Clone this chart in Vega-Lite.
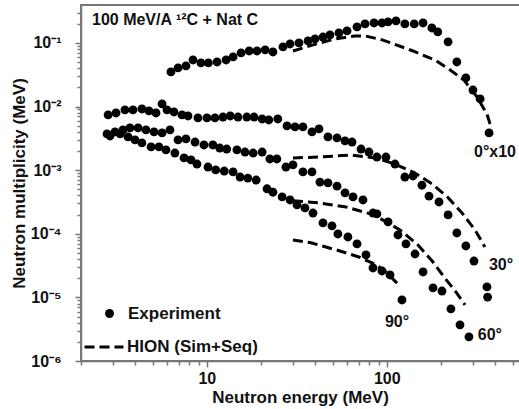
{
  "$schema": "https://vega.github.io/schema/vega-lite/v6.json",
  "width": 440,
  "height": 356,
  "autosize": {"type": "none"},
  "padding": {"left": 81, "top": 5, "right": -2, "bottom": 48},
  "background": "white",
  "config": {"view": {"stroke": "#777", "strokeWidth": 2}, "font": "Liberation Sans"},
  "title": {"text": "100 MeV/A ¹²C + Nat C", "anchor": "start", "frame": "group", "offset": -23, "dx": 11, "font": "Liberation Sans", "fontSize": 16, "fontWeight": "bold", "color": "#111"},
  "data": {"values": [
    {"src":"Experiment","ang":"0","E":6.32,"M":0.035},{"src":"Experiment","ang":"0","E":6.92,"M":0.0405},{"src":"Experiment","ang":"0","E":7.66,"M":0.0435},{"src":"Experiment","ang":"0","E":8.38,"M":0.054},{"src":"Experiment","ang":"0","E":9.28,"M":0.0485},{"src":"Experiment","ang":"0","E":10.2,"M":0.0485},{"src":"Experiment","ang":"0","E":11.4,"M":0.0502},{"src":"Experiment","ang":"0","E":12.8,"M":0.054},{"src":"Experiment","ang":"0","E":14.0,"M":0.0603},{"src":"Experiment","ang":"0","E":15.5,"M":0.0697},{"src":"Experiment","ang":"0","E":17.2,"M":0.0748},{"src":"Experiment","ang":"0","E":19.0,"M":0.0748},{"src":"Experiment","ang":"0","E":21.1,"M":0.0776},{"src":"Experiment","ang":"0","E":23.3,"M":0.0721},{"src":"Experiment","ang":"0","E":26.5,"M":0.0865},{"src":"Experiment","ang":"0","E":29.0,"M":0.0964},{"src":"Experiment","ang":"0","E":32.5,"M":0.100},{"src":"Experiment","ang":"0","E":36.5,"M":0.1075},{"src":"Experiment","ang":"0","E":39.9,"M":0.1156},{"src":"Experiment","ang":"0","E":44.2,"M":0.124},{"src":"Experiment","ang":"0","E":48.3,"M":0.1336},{"src":"Experiment","ang":"0","E":54.2,"M":0.1436},{"src":"Experiment","ang":"0","E":60.1,"M":0.1545},{"src":"Experiment","ang":"0","E":68.3,"M":0.1786},{"src":"Experiment","ang":"0","E":75.7,"M":0.199},{"src":"Experiment","ang":"0","E":84.9,"M":0.206},{"src":"Experiment","ang":"0","E":94.0,"M":0.206},{"src":"Experiment","ang":"0","E":101.6,"M":0.214},{"src":"Experiment","ang":"0","E":112.5,"M":0.222},{"src":"Experiment","ang":"0","E":126,"M":0.199},{"src":"Experiment","ang":"0","E":142,"M":0.199},{"src":"Experiment","ang":"0","E":159,"M":0.206},{"src":"Experiment","ang":"0","E":178,"M":0.172},{"src":"Experiment","ang":"0","E":192,"M":0.149},{"src":"Experiment","ang":"0","E":219,"M":0.104},{"src":"Experiment","ang":"0","E":245,"M":0.0502},{"src":"Experiment","ang":"0","E":275,"M":0.0282},{"src":"Experiment","ang":"0","E":301,"M":0.0182},{"src":"Experiment","ang":"0","E":330,"M":0.0132},{"src":"Experiment","ang":"0","E":370,"M":0.00385},
    {"src":"Experiment","ang":"30","E":2.83,"M":0.00738},{"src":"Experiment","ang":"30","E":3.13,"M":0.00793},{"src":"Experiment","ang":"30","E":3.51,"M":0.00885},{"src":"Experiment","ang":"30","E":3.89,"M":0.00885},{"src":"Experiment","ang":"30","E":4.36,"M":0.00916},{"src":"Experiment","ang":"30","E":4.77,"M":0.00853},{"src":"Experiment","ang":"30","E":5.22,"M":0.00793},{"src":"Experiment","ang":"30","E":5.64,"M":0.01099},{"src":"Experiment","ang":"30","E":6.01,"M":0.00885},{"src":"Experiment","ang":"30","E":6.57,"M":0.00822},{"src":"Experiment","ang":"30","E":7.28,"M":0.00738},{"src":"Experiment","ang":"30","E":7.86,"M":0.00711},{"src":"Experiment","ang":"30","E":8.93,"M":0.00662},{"src":"Experiment","ang":"30","E":10.02,"M":0.00662},{"src":"Experiment","ang":"30","E":11.1,"M":0.00662},{"src":"Experiment","ang":"30","E":12.3,"M":0.00685},{"src":"Experiment","ang":"30","E":13.5,"M":0.00711},{"src":"Experiment","ang":"30","E":14.9,"M":0.00685},{"src":"Experiment","ang":"30","E":16.7,"M":0.00685},{"src":"Experiment","ang":"30","E":18.3,"M":0.00685},{"src":"Experiment","ang":"30","E":20.3,"M":0.00638},{"src":"Experiment","ang":"30","E":22.1,"M":0.00615},{"src":"Experiment","ang":"30","E":24.8,"M":0.00638},{"src":"Experiment","ang":"30","E":27.9,"M":0.00496},{"src":"Experiment","ang":"30","E":30.9,"M":0.00478},{"src":"Experiment","ang":"30","E":34.2,"M":0.00478},{"src":"Experiment","ang":"30","E":38.4,"M":0.00399},{"src":"Experiment","ang":"30","E":42.0,"M":0.00445},{"src":"Experiment","ang":"30","E":47.1,"M":0.00333},{"src":"Experiment","ang":"30","E":52.9,"M":0.00321},{"src":"Experiment","ang":"30","E":58.6,"M":0.00288},{"src":"Experiment","ang":"30","E":64.1,"M":0.00277},{"src":"Experiment","ang":"30","E":71.9,"M":0.00215},{"src":"Experiment","ang":"30","E":79.6,"M":0.00193},{"src":"Experiment","ang":"30","E":88.1,"M":0.00161},{"src":"Experiment","ang":"30","E":98.9,"M":0.00161},{"src":"Experiment","ang":"30","E":111.0,"M":0.00125},{"src":"Experiment","ang":"30","E":126,"M":0.00078},{"src":"Experiment","ang":"30","E":139.8,"M":0.00081},{"src":"Experiment","ang":"30","E":156.8,"M":0.00058},{"src":"Experiment","ang":"30","E":171.6,"M":0.00039},{"src":"Experiment","ang":"30","E":195,"M":0.000316},{"src":"Experiment","ang":"30","E":219,"M":0.000198},{"src":"Experiment","ang":"30","E":245,"M":0.000103},{"src":"Experiment","ang":"30","E":275,"M":0.0000643},{"src":"Experiment","ang":"30","E":305,"M":0.0000373},{"src":"Experiment","ang":"30","E":360,"M":0.0000146},{"src":"Experiment","ang":"30","E":363,"M":0.0000101},
    {"src":"Experiment","ang":"60","E":2.79,"M":0.00371},{"src":"Experiment","ang":"60","E":3.09,"M":0.00399},{"src":"Experiment","ang":"60","E":3.42,"M":0.00429},{"src":"Experiment","ang":"60","E":3.74,"M":0.00461},{"src":"Experiment","ang":"60","E":4.15,"M":0.00461},{"src":"Experiment","ang":"60","E":4.59,"M":0.00429},{"src":"Experiment","ang":"60","E":5.09,"M":0.00399},{"src":"Experiment","ang":"60","E":5.64,"M":0.00385},{"src":"Experiment","ang":"60","E":6.24,"M":0.00429},{"src":"Experiment","ang":"60","E":6.92,"M":0.00299},{"src":"Experiment","ang":"60","E":7.66,"M":0.0031},{"src":"Experiment","ang":"60","E":8.6,"M":0.00277},{"src":"Experiment","ang":"60","E":9.64,"M":0.00249},{"src":"Experiment","ang":"60","E":10.8,"M":0.00249},{"src":"Experiment","ang":"60","E":11.8,"M":0.00223},{"src":"Experiment","ang":"60","E":12.9,"M":0.00215},{"src":"Experiment","ang":"60","E":14.7,"M":0.00208},{"src":"Experiment","ang":"60","E":16.3,"M":0.00193},{"src":"Experiment","ang":"60","E":18.1,"M":0.00186},{"src":"Experiment","ang":"60","E":20.3,"M":0.00193},{"src":"Experiment","ang":"60","E":22.4,"M":0.0015},{"src":"Experiment","ang":"60","E":24.5,"M":0.0015},{"src":"Experiment","ang":"60","E":27.5,"M":0.00112},{"src":"Experiment","ang":"60","E":30.1,"M":0.00121},{"src":"Experiment","ang":"60","E":34.2,"M":0.00094},{"src":"Experiment","ang":"60","E":38.4,"M":0.00094},{"src":"Experiment","ang":"60","E":42.5,"M":0.00065},{"src":"Experiment","ang":"60","E":47.1,"M":0.00063},{"src":"Experiment","ang":"60","E":52.9,"M":0.00056},{"src":"Experiment","ang":"60","E":58.6,"M":0.00044},{"src":"Experiment","ang":"60","E":64.9,"M":0.00038},{"src":"Experiment","ang":"60","E":73.7,"M":0.00034},{"src":"Experiment","ang":"60","E":83.8,"M":0.000212},{"src":"Experiment","ang":"60","E":88.1,"M":0.000205},{"src":"Experiment","ang":"60","E":101.6,"M":0.000154},{"src":"Experiment","ang":"60","E":115.4,"M":0.0000958},{"src":"Experiment","ang":"60","E":127.8,"M":0.0000692},{"src":"Experiment","ang":"60","E":143.5,"M":0.0000481},{"src":"Experiment","ang":"60","E":159,"M":0.0000251},{"src":"Experiment","ang":"60","E":180.6,"M":0.0000141},{"src":"Experiment","ang":"60","E":202.6,"M":0.0000126},{"src":"Experiment","ang":"60","E":227,"M":0.0000066},{"src":"Experiment","ang":"60","E":255,"M":0.0000037},{"src":"Experiment","ang":"60","E":286,"M":0.0000024},
    {"src":"Experiment","ang":"90","E":2.9,"M":0.00345},{"src":"Experiment","ang":"90","E":3.3,"M":0.00371},{"src":"Experiment","ang":"90","E":3.65,"M":0.00333},{"src":"Experiment","ang":"90","E":3.99,"M":0.00299},{"src":"Experiment","ang":"90","E":4.36,"M":0.00268},{"src":"Experiment","ang":"90","E":4.9,"M":0.00232},{"src":"Experiment","ang":"90","E":5.42,"M":0.00232},{"src":"Experiment","ang":"90","E":5.93,"M":0.00208},{"src":"Experiment","ang":"90","E":6.65,"M":0.00186},{"src":"Experiment","ang":"90","E":7.47,"M":0.00156},{"src":"Experiment","ang":"90","E":8.17,"M":0.00145},{"src":"Experiment","ang":"90","E":8.82,"M":0.00125},{"src":"Experiment","ang":"90","E":10.15,"M":0.00112},{"src":"Experiment","ang":"90","E":11.2,"M":0.00101},{"src":"Experiment","ang":"90","E":12.5,"M":0.00097},{"src":"Experiment","ang":"90","E":14.0,"M":0.00094},{"src":"Experiment","ang":"90","E":15.3,"M":0.00078},{"src":"Experiment","ang":"90","E":16.9,"M":0.00075},{"src":"Experiment","ang":"90","E":18.8,"M":0.0007},{"src":"Experiment","ang":"90","E":21.6,"M":0.00051},{"src":"Experiment","ang":"90","E":23.3,"M":0.00045},{"src":"Experiment","ang":"90","E":26.2,"M":0.00038},{"src":"Experiment","ang":"90","E":29.0,"M":0.00034},{"src":"Experiment","ang":"90","E":31.7,"M":0.000284},{"src":"Experiment","ang":"90","E":35.1,"M":0.000255},{"src":"Experiment","ang":"90","E":38.9,"M":0.000212},{"src":"Experiment","ang":"90","E":44.2,"M":0.000148},{"src":"Experiment","ang":"90","E":49.6,"M":0.000133},{"src":"Experiment","ang":"90","E":53.5,"M":0.0000993},{"src":"Experiment","ang":"90","E":60.8,"M":0.0000891},{"src":"Experiment","ang":"90","E":68.3,"M":0.0000692},{"src":"Experiment","ang":"90","E":76.6,"M":0.0000464},{"src":"Experiment","ang":"90","E":83.8,"M":0.000029},{"src":"Experiment","ang":"90","E":94.0,"M":0.000026},{"src":"Experiment","ang":"90","E":104.2,"M":0.0000225},{"src":"Experiment","ang":"90","E":121.4,"M":0.0000091},
    {"src":"HION (Sim+Seq)","ang":"0","E":30.1,"M":0.0748},{"src":"HION (Sim+Seq)","ang":"0","E":38.9,"M":0.0931},{"src":"HION (Sim+Seq)","ang":"0","E":51.5,"M":0.1156},{"src":"HION (Sim+Seq)","ang":"0","E":66.5,"M":0.129},{"src":"HION (Sim+Seq)","ang":"0","E":75.7,"M":0.129},{"src":"HION (Sim+Seq)","ang":"0","E":95.2,"M":0.111},{"src":"HION (Sim+Seq)","ang":"0","E":139.8,"M":0.0748},{"src":"HION (Sim+Seq)","ang":"0","E":185,"M":0.054},{"src":"HION (Sim+Seq)","ang":"0","E":221,"M":0.039},{"src":"HION (Sim+Seq)","ang":"0","E":268,"M":0.0262},{"src":"HION (Sim+Seq)","ang":"0","E":317,"M":0.01416},{"src":"HION (Sim+Seq)","ang":"0","E":360,"M":0.00766},{"src":"HION (Sim+Seq)","ang":"0","E":379,"M":0.00478},
    {"src":"HION (Sim+Seq)","ang":"30","E":30.1,"M":0.00156},{"src":"HION (Sim+Seq)","ang":"30","E":42.5,"M":0.00161},{"src":"HION (Sim+Seq)","ang":"30","E":62.4,"M":0.00173},{"src":"HION (Sim+Seq)","ang":"30","E":85.9,"M":0.00156},{"src":"HION (Sim+Seq)","ang":"30","E":111.0,"M":0.00125},{"src":"HION (Sim+Seq)","ang":"30","E":143.5,"M":0.0009},{"src":"HION (Sim+Seq)","ang":"30","E":178,"M":0.00061},{"src":"HION (Sim+Seq)","ang":"30","E":219,"M":0.00037},{"src":"HION (Sim+Seq)","ang":"30","E":262,"M":0.000212},{"src":"HION (Sim+Seq)","ang":"30","E":309,"M":0.000115},{"src":"HION (Sim+Seq)","ang":"30","E":351,"M":0.0000619},
    {"src":"HION (Sim+Seq)","ang":"60","E":30.1,"M":0.00033},{"src":"HION (Sim+Seq)","ang":"60","E":42.5,"M":0.000305},{"src":"HION (Sim+Seq)","ang":"60","E":59.3,"M":0.000264},{"src":"HION (Sim+Seq)","ang":"60","E":84.9,"M":0.000198},{"src":"HION (Sim+Seq)","ang":"60","E":118.3,"M":0.000115},{"src":"HION (Sim+Seq)","ang":"60","E":149,"M":0.0000667},{"src":"HION (Sim+Seq)","ang":"60","E":180.6,"M":0.000036},{"src":"HION (Sim+Seq)","ang":"60","E":210,"M":0.0000202},{"src":"HION (Sim+Seq)","ang":"60","E":242,"M":0.0000122},{"src":"HION (Sim+Seq)","ang":"60","E":272,"M":0.0000076},
    {"src":"HION (Sim+Seq)","ang":"90","E":30.1,"M":0.00008},{"src":"HION (Sim+Seq)","ang":"90","E":38.4,"M":0.0000716},{"src":"HION (Sim+Seq)","ang":"90","E":45.9,"M":0.0000619},{"src":"HION (Sim+Seq)","ang":"90","E":54.9,"M":0.0000537},{"src":"HION (Sim+Seq)","ang":"90","E":70.0,"M":0.0000432},{"src":"HION (Sim+Seq)","ang":"90","E":82.8,"M":0.0000348},{"src":"HION (Sim+Seq)","ang":"90","E":96.4,"M":0.000027},{"src":"HION (Sim+Seq)","ang":"90","E":118.3,"M":0.0000151}
  ]},
  "encoding": {
    "x": {"field": "E", "type": "quantitative",
      "scale": {"type": "log", "domain": [2, 556.6], "nice": false},
      "axis": {"title": "Neutron energy (MeV)", "grid": false,
        "values": [2,3,4,5,6,7,8,9,10,20,30,40,50,60,70,80,90,100,200,300,400,500],
        "labelExpr": "datum.value == 10 ? '10' : datum.value == 100 ? '100' : ''",
        "tickSize": {"condition": {"test": "datum.value == 10 || datum.value == 100", "value": 6}, "value": 4},
        "domainColor": "#777", "domainWidth": 1.5, "tickColor": "#777", "tickWidth": 1.5,
        "labelFont": "Liberation Sans", "labelFontSize": 16, "labelFontWeight": "bold", "labelColor": "#111", "labelPadding": 3,
        "labelOverlap": false, "labelFlush": false, "labelBound": false,
        "titleFont": "Liberation Sans", "titleFontSize": 17, "titleFontWeight": "bold", "titleColor": "#111",
        "titleX": 219, "titleY": 41, "titleBaseline": "alphabetic", "titleAlign": "center"}},
    "y": {"field": "M", "type": "quantitative",
      "scale": {"type": "log", "domain": [1e-6, 0.395], "nice": false},
      "axis": {"title": "Neutron multiplicity (MeV)", "grid": false,
        "values": [1e-6,2e-6,3e-6,4e-6,5e-6,6e-6,7e-6,8e-6,9e-6,1e-5,2e-5,3e-5,4e-5,5e-5,6e-5,7e-5,8e-5,9e-5,1e-4,2e-4,3e-4,4e-4,5e-4,6e-4,7e-4,8e-4,9e-4,0.001,0.002,0.003,0.004,0.005,0.006,0.007,0.008,0.009,0.01,0.02,0.03,0.04,0.05,0.06,0.07,0.08,0.09,0.1,0.2,0.3],
        "labelExpr": "datum.value == 1e-6 ? '10⁻⁶' : datum.value == 1e-5 ? '10⁻⁵' : datum.value == 1e-4 ? '10⁻⁴' : datum.value == 0.001 ? '10⁻³' : datum.value == 0.01 ? '10⁻²' : datum.value == 0.1 ? '10⁻¹' : ''",
        "tickSize": {"condition": {"test": "datum.value == 1e-6 || datum.value == 1e-5 || datum.value == 1e-4 || datum.value == 0.001 || datum.value == 0.01 || datum.value == 0.1", "value": 6}, "value": 4},
        "domainColor": "#777", "domainWidth": 1.5, "tickColor": "#777", "tickWidth": 1.5,
        "labelFont": "Liberation Sans", "labelFontSize": 16, "labelFontWeight": "bold", "labelColor": "#111", "labelPadding": 14, "labelDy": 2,
        "labelOverlap": false, "labelFlush": false, "labelBound": false,
        "titleFont": "Liberation Sans", "titleFontSize": 17, "titleFontWeight": "bold", "titleColor": "#111",
        "titleX": -62, "titleY": 178, "titleBaseline": "middle", "titleAlign": "center", "titleAngle": 270}}
  },
  "layer": [
    {
      "transform": [{"filter": "datum.src == 'Experiment'"}],
      "mark": {"type": "point", "filled": true, "color": "black", "size": 78, "opacity": 1},
      "encoding": {
        "shape": {"field": "src", "type": "nominal",
          "scale": {"domain": ["Experiment"], "range": ["circle"]},
          "legend": {"title": null, "orient": "none", "legendX": 20, "legendY": 300, "padding": 0,
            "labelFont": "Liberation Sans", "labelFontSize": 17, "labelFontWeight": "bold", "labelColor": "#111",
            "symbolSize": 80, "symbolFillColor": "black", "symbolStrokeWidth": 0, "labelOffset": 10}}
      }
    },
    {
      "transform": [{"filter": "datum.src != 'Experiment'"}],
      "mark": {"type": "line", "color": "black", "strokeWidth": 3},
      "encoding": {
        "detail": {"field": "ang", "type": "nominal"},
        "strokeDash": {"field": "src", "type": "nominal",
          "scale": {"domain": ["HION (Sim+Seq)"], "range": [[10, 5]]},
          "legend": {"title": null, "orient": "none", "legendX": 2, "legendY": 321, "padding": 0,
            "labelFont": "Liberation Sans", "labelFontSize": 17, "labelFontWeight": "bold", "labelColor": "#111",
            "symbolType": "stroke", "symbolSize": 1521, "symbolStrokeWidth": 3, "symbolStrokeColor": "black", "labelOffset": 2}}
      }
    },
    {
      "data": {"values": [
        {"label": "0°x10", "E": 399, "M": 0.00193},
        {"label": "30°", "E": 431, "M": 0.0000323},
        {"label": "60°", "E": 374, "M": 0.00000257},
        {"label": "90°", "E": 114, "M": 0.0000041}
      ]},
      "mark": {"type": "text", "font": "Liberation Sans", "fontSize": 16, "fontWeight": "bold", "color": "#111", "align": "center", "baseline": "middle"},
      "encoding": {"text": {"field": "label", "type": "nominal"}}
    }
  ]
}
